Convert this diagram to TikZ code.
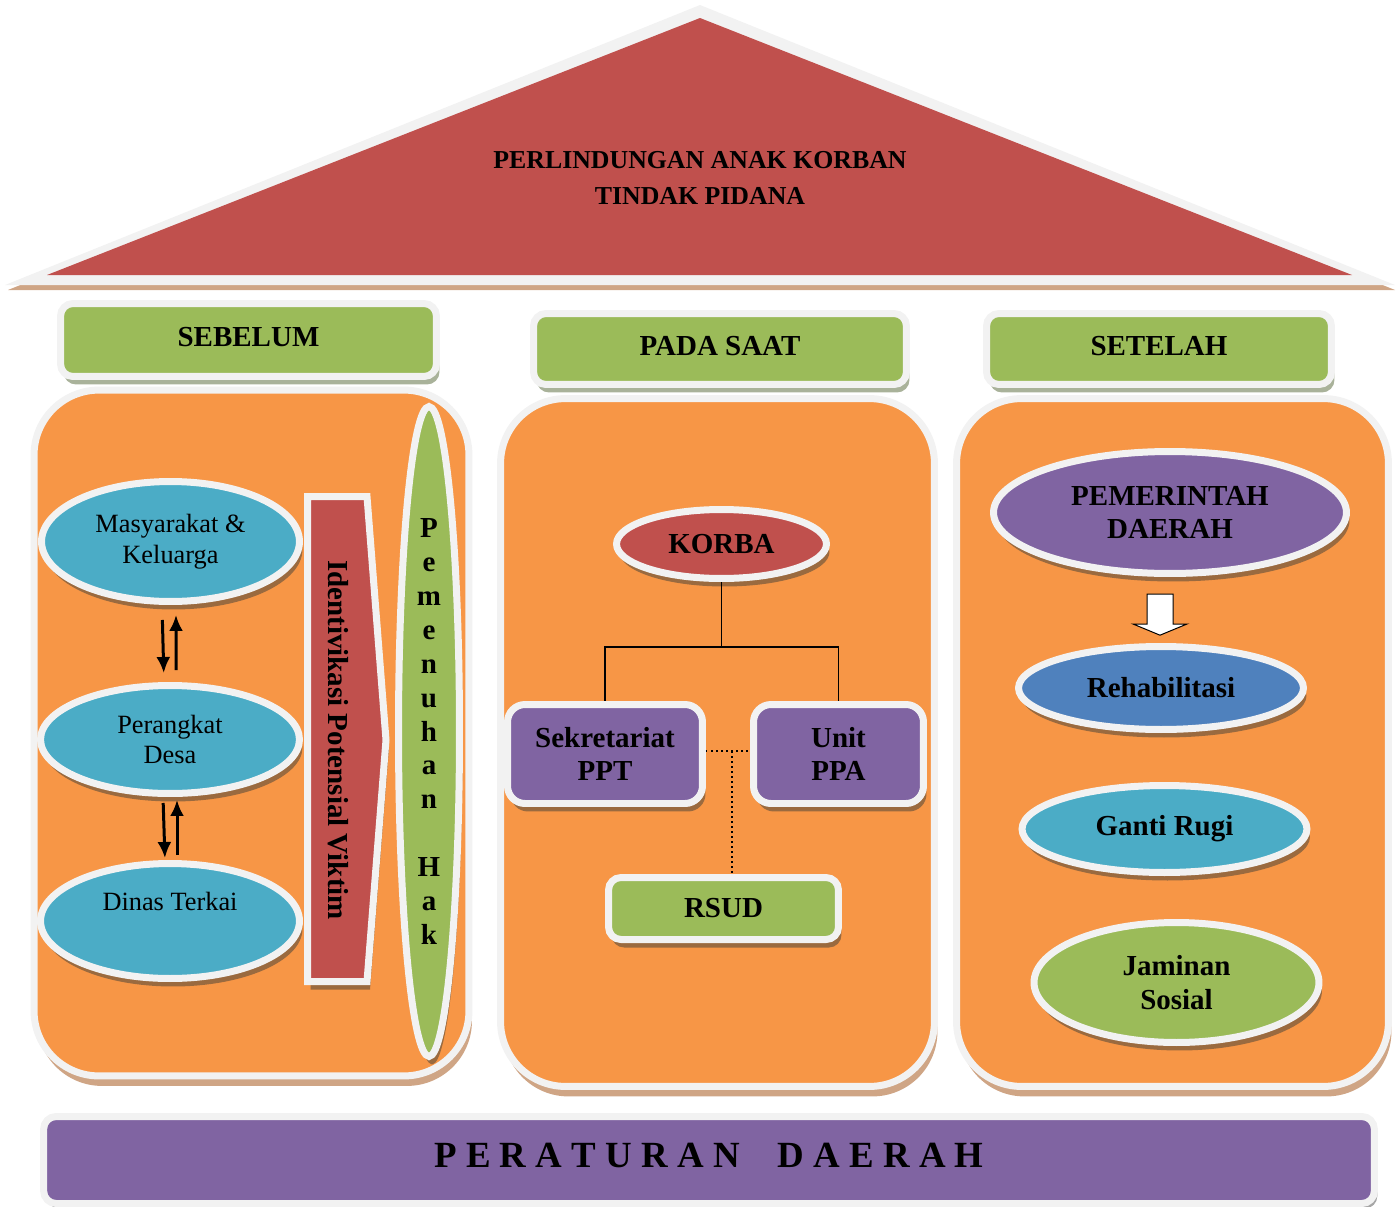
\documentclass[tikz,border=0pt]{standalone}
\usepackage{fontspec}
\setmainfont{Liberation Serif}
\usetikzlibrary{shapes.geometric,shapes.arrows,shadows,arrows.meta,calc}

\definecolor{orangefill}{HTML}{F79646}
\definecolor{greenfill}{HTML}{9BBB59}
\definecolor{purplefill}{HTML}{8064A2}
\definecolor{redfill}{HTML}{C0504D}
\definecolor{tealfill}{HTML}{4BACC6}
\definecolor{bluefill}{HTML}{4F81BD}
\definecolor{rim}{HTML}{F2F2F2}
\definecolor{shadowtan}{HTML}{CFA585}
\definecolor{shadowbrown}{HTML}{9A6A3F}
\definecolor{shadowgrey}{HTML}{A9B29A}

\newcommand{\roofsize}{\fontsize{14.7}{20.4}\selectfont\bfseries}
\newcommand{\boldsize}{\fontsize{16.5}{19}\selectfont\bfseries}
\newcommand{\plainsize}{\fontsize{15}{17.3}\selectfont}
\newcommand{\stacksize}{\fontsize{16.5}{19.3}\selectfont\bfseries}
\newcommand{\perdasize}{\fontsize{21}{24}\selectfont\bfseries}

\tikzset{
  rimmed/.style={draw=rim, line width=0.14cm},
  panelshadow/.style={drop shadow={shadow xshift=0.06cm, shadow yshift=-0.2cm, fill=shadowtan, opacity=1}},
  boxshadow/.style={drop shadow={shadow xshift=0.06cm, shadow yshift=-0.16cm, fill=shadowgrey, opacity=1}},
  ellshadow/.style={drop shadow={shadow xshift=0.06cm, shadow yshift=-0.16cm, fill=shadowbrown, opacity=1}},
  panel/.style={rectangle, rimmed, fill=orangefill, rounded corners=1.3cm, panelshadow},
  header/.style={rectangle, rimmed, fill=greenfill, rounded corners=0.25cm, font=\boldsize, text depth=0.12cm, boxshadow},
  oval/.style={ellipse, rimmed, inner sep=0pt, align=center, ellshadow},
  card/.style={rectangle, rimmed, rounded corners=0.35cm, inner sep=0pt, align=center, font=\boldsize, ellshadow},
  link/.style={line width=0.03cm},
  flow/.style={-{Latex[length=0.32cm,width=0.28cm]}, line width=0.06cm}
}

\begin{document}
\begin{tikzpicture}[x=0.02cm, y=-0.02cm]
\useasboundingbox (0,0) rectangle (1400,1207);

% roof
\fill[shadowtan] (8,290) -- (700,10) -- (1395,290) -- cycle;
\fill[rim] (5,285) -- (700,5) -- (1395,285) -- cycle;
\fill[redfill] (47,275) -- (700,18) -- (1352,275) -- cycle;
\node[font=\roofsize, align=center] (ROOF) at (700,178) {PERLINDUNGAN ANAK KORBAN\\TINDAK PIDANA};

% pillars
\node[panel, minimum width=8.7cm, minimum height=13.72cm] (pilL) at (251.5,733) {};
\node[panel, minimum width=8.68cm, minimum height=13.76cm] (pilM) at (717.5,742.5) {};
\node[panel, minimum width=8.64cm, minimum height=13.76cm] (pilR) at (1172.5,742.5) {};

\node[header, minimum width=7.52cm, minimum height=1.46cm] (SEB) at (248.5,340) {SEBELUM};
\node[header, minimum width=7.46cm, minimum height=1.42cm] (SAAT) at (720,349) {PADA SAAT};
\node[header, minimum width=6.9cm, minimum height=1.42cm] (SET) at (1159,349) {SETELAH};

% sebelum
\node[oval, fill=tealfill, font=\plainsize, minimum width=5.16cm, minimum height=2.4cm] (MK) at (170.5,541.5) {Masyarakat \&\\Keluarga};
\node[oval, fill=tealfill, font=\plainsize, minimum width=5.18cm, minimum height=2.16cm] (PD) at (170,739.5) {Perangkat\\Desa};
\node[oval, fill=tealfill, font=\plainsize, minimum width=5.18cm, minimum height=2.3cm] (DT) at (170,921) {Dinas Terkai\\\strut};

\draw[flow, shorten <=0.3cm, shorten >=0.18cm] ([xshift=-0.17cm]MK.south) -- ([xshift=-0.12cm]PD.north);
\draw[flow, shorten <=0.24cm, shorten >=0.2cm] ([xshift=0.12cm]PD.north) -- ([xshift=0.11cm]MK.south);
\draw[flow, shorten <=0.12cm, shorten >=0.04cm] ([xshift=-0.14cm]PD.south) -- ([xshift=-0.1cm]DT.north);
\draw[flow, shorten <=0.1cm, shorten >=0.06cm] ([xshift=0.14cm]DT.north) -- ([xshift=0.14cm]PD.south);

\draw[rimmed, fill=redfill, ellshadow] (307.5,496.5) -- (367,496.5) -- (386,740) -- (367,981.5) -- (307.5,981.5) -- cycle;
\node[rotate=-90, font=\boldsize] (IPV) at (338,740) {Identivikasi Potensial Viktim};

\node[oval, fill=greenfill, font=\stacksize, minimum width=1.22cm, minimum height=13cm] (PH) at (429,731.5)
  {P\\e\\m\\e\\n\\u\\h\\a\\n\\[19.3pt]H\\a\\k};

% pada saat
\node[oval, fill=redfill, font=\boldsize, minimum width=4.2cm, minimum height=1.38cm] (KOR) at (721.5,544) {KORBA};
\node[card, fill=purplefill, minimum width=3.9cm, minimum height=1.98cm] (PPT) at (605,754) {Sekretariat\\PPT};
\node[card, fill=purplefill, minimum width=3.4cm, minimum height=1.98cm] (PPA) at (838.5,754) {Unit\\PPA};
\node[card, fill=greenfill, rounded corners=0.25cm, minimum width=4.6cm, minimum height=1.24cm] (RSUD) at (723.5,908.5) {RSUD};

\coordinate (bus) at (0,647);
\draw[link] (KOR.south) -- (KOR.south |- bus) -| (PPT.north);
\draw[link] (KOR.south |- bus) -| (PPA.north);
\coordinate (mid) at ($(PPT.east)!0.5!(PPA.west)+(4,-3)$);
\draw[link, dotted] ([yshift=0.06cm]PPT.east) -- ([yshift=0.06cm]PPA.west);
\draw[link, dotted] (mid) -- (mid |- RSUD.north);

% setelah
\node[oval, fill=purplefill, font=\boldsize, minimum width=7.06cm, minimum height=2.44cm] (PEM) at (1170,512.5) {PEMERINTAH\\DAERAH};
\node[oval, fill=bluefill, font=\boldsize, minimum width=5.7cm, minimum height=1.66cm] (REH) at (1161,688) {Rehabilitasi};
\node[oval, fill=tealfill, font=\boldsize, minimum width=5.7cm, minimum height=1.74cm] (GR) at (1164.5,829) {Ganti Rugi};
\node[oval, fill=greenfill, font=\boldsize, minimum width=5.7cm, minimum height=2.4cm] (JS) at (1176.5,982.5) {Jaminan\\Sosial};

\node[single arrow, draw=black, fill=white, line width=0.02cm, rotate=-90, minimum height=0.82cm,
  inner sep=0.25cm, single arrow head extend=0.28cm, single arrow tip angle=135] (down) at (1160,612) {};

% base
\node[rimmed, fill=purplefill, rounded corners=0.25cm, minimum width=26.62cm, minimum height=1.74cm,
  font=\perdasize, text depth=0.2cm, drop shadow={shadow xshift=0.06cm, shadow yshift=-0.1cm, fill=gray!70, opacity=1}] (PERDA) at (709,1160)
  {P E R A T U R A N\hspace{0.76cm}D A E R A H};
\end{tikzpicture}
\end{document}
